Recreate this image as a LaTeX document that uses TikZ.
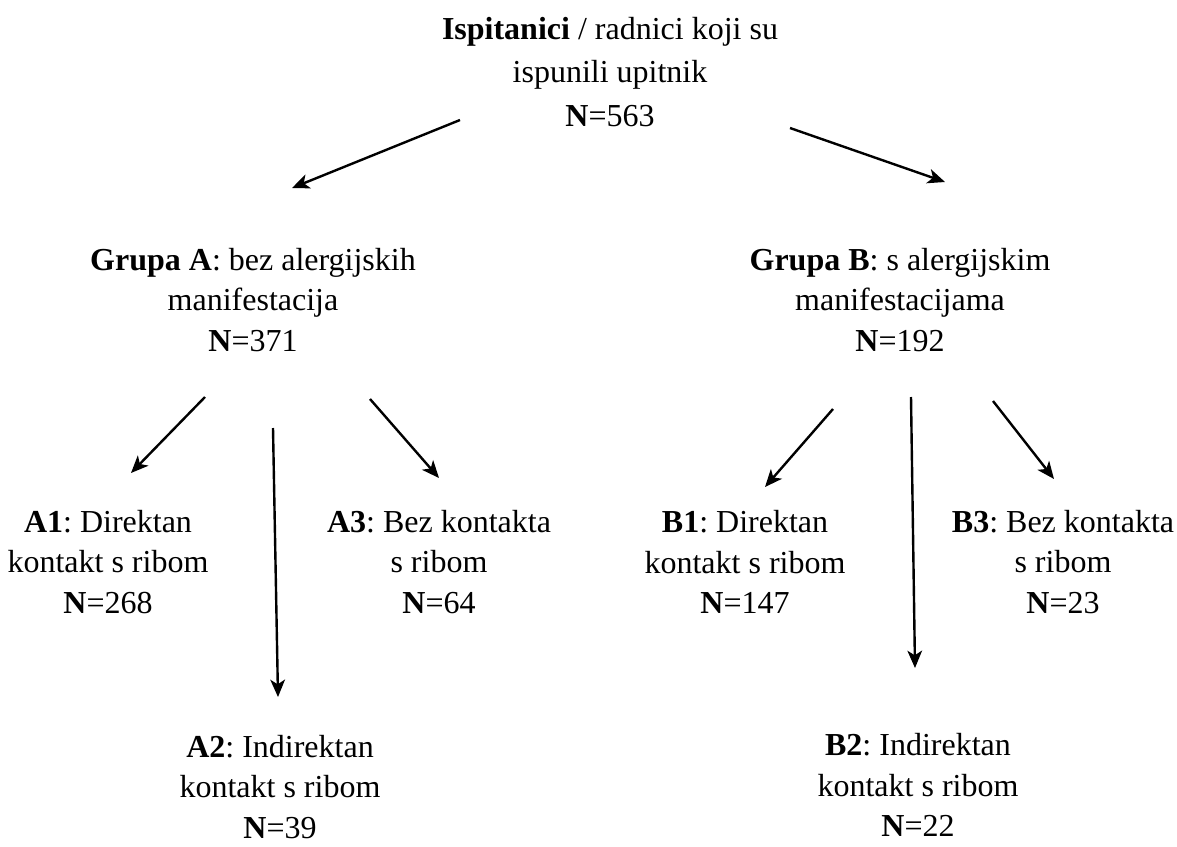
\documentclass[tikz,border=0pt]{standalone}
\usepackage{fontspec}
\setmainfont{Liberation Serif}
\usetikzlibrary{arrows.meta}
\tikzset{
  lbl/.style={align=center, inner sep=0pt, font=\frenchspacing\fontsize{24}{30.5}\selectfont},
  toplbl/.style={lbl, font=\frenchspacing\fontsize{24}{32.5}\selectfont},
  arr/.style={line width=1.8pt, -{Stealth[length=13pt,width=11pt,inset=3.5pt]}},
}
\begin{document}
\begin{tikzpicture}[x=0.75pt,y=-0.75pt]
\useasboundingbox (0,0) rectangle (1177,846);
\node[toplbl] (top) at (610,72) {\textbf{Ispitanici} / radnici koji su\\ispunili upitnik\\\textbf{N}=563};
\node[lbl] (A) at (253,300) {\textbf{Grupa A}: bez alergijskih\\manifestacija\\\textbf{N}=371};
\node[lbl] (B) at (900,300) {\textbf{Grupa B}: s alergijskim\\manifestacijama\\\textbf{N}=192};
\node[lbl] (A1) at (108,562) {\textbf{A1}: Direktan\\kontakt s ribom\\\textbf{N}=268};
\node[lbl] (A3) at (439,562) {\textbf{A3}: Bez kontakta\\s ribom\\\textbf{N}=64};
\node[lbl] (B1) at (745,562) {\textbf{B1}: Direktan\\kontakt s ribom\\\textbf{N}=147};
\node[lbl] (B3) at (1063,562) {\textbf{B3}: Bez kontakta\\s ribom\\\textbf{N}=23};
\node[lbl] (A2) at (280,787) {\textbf{A2}: Indirektan\\kontakt s ribom\\\textbf{N}=39};
\node[lbl] (B2) at (918,785) {\textbf{B2}: Indirektan\\kontakt s ribom\\\textbf{N}=22};
% arrow end points
\coordinate (topL-s) at (460,120);
\coordinate (topL-e) at (292,188);
\coordinate (topR-s) at (790,128);
\coordinate (topR-e) at (945,182);
\coordinate (A1-s) at (205,397);
\coordinate (A1-e) at (131,473);
\coordinate (A2-s) at (273,428);
\coordinate (A2-e) at (278,697);
\coordinate (A3-s) at (370,399);
\coordinate (A3-e) at (439,478);
\coordinate (B1-s) at (833,409);
\coordinate (B1-e) at (765,487);
\coordinate (B2-s) at (911,397);
\coordinate (B2-e) at (915,668);
\coordinate (B3-s) at (993,401);
\coordinate (B3-e) at (1054,479);
\draw[arr] (topL-s) -- (topL-e);
\draw[arr] (topR-s) -- (topR-e);
\draw[arr] (A1-s) -- (A1-e);
\draw[arr] (A2-s) -- (A2-e);
\draw[arr] (A3-s) -- (A3-e);
\draw[arr] (B1-s) -- (B1-e);
\draw[arr] (B2-s) -- (B2-e);
\draw[arr] (B3-s) -- (B3-e);
\end{tikzpicture}
\end{document}
